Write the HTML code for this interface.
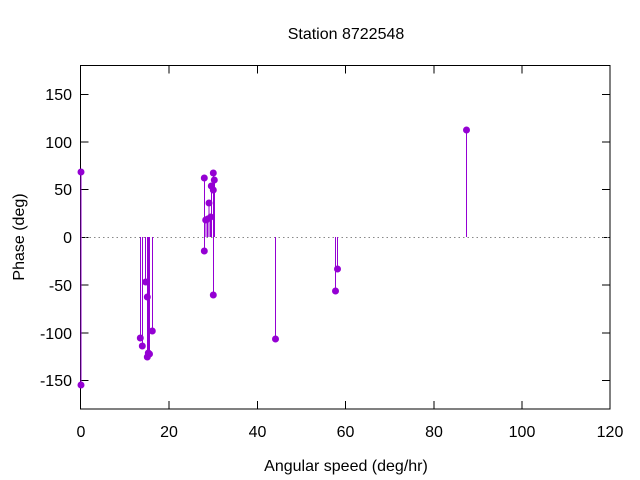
<!DOCTYPE html>
<html><head><style>body{margin:0;background:#fff}svg{display:block}text{font-family:"Liberation Sans","DejaVu Sans",sans-serif;font-size:16px;fill:#000}</style></head>
<body>
<svg width="640" height="480" xmlns="http://www.w3.org/2000/svg">
<text x="346" y="39" text-anchor="middle">Station 8722548</text>
<g stroke="#000" stroke-width="1">
<rect x="80.5" y="65.5" width="529.5" height="343.5" fill="none"/>
<path d="M80.5 94.5h8M80.5 142h8M80.5 189.5h8M80.5 237.5h8M80.5 285h8M80.5 333h8M80.5 380.5h8
M610 94.5h-8M610 142h-8M610 189.5h-8M610 237.5h-8M610 285h-8M610 333h-8M610 380.5h-8
M169 409v-8M257.5 409v-8M345.5 409v-8M434 409v-8M522 409v-8
M169 65.5v8M257.5 65.5v8M345.5 65.5v8M434 65.5v8M522 65.5v8"/>
</g>
<g text-anchor="end">
<text x="72" y="100">150</text><text x="72" y="148">100</text><text x="72" y="195">50</text><text x="72" y="243">0</text><text x="72" y="291">-50</text><text x="72" y="339">-100</text><text x="72" y="386">-150</text>
</g>
<g text-anchor="middle">
<text x="81" y="437">0</text><text x="169" y="437">20</text><text x="257.5" y="437">40</text><text x="345.5" y="437">60</text><text x="434" y="437">80</text><text x="522" y="437">100</text><text x="610" y="437">120</text>
</g>
<text x="346" y="471" text-anchor="middle">Angular speed (deg/hr)</text>
<text transform="translate(24,237) rotate(-90)" text-anchor="middle">Phase (deg)</text>
<line x1="80.5" y1="237.5" x2="610" y2="237.5" stroke="#888" stroke-width="1" stroke-dasharray="1.5,3"/>
<g stroke="#9400d3" stroke-width="1" fill="#9400d3">
<path d="M81 237V172M81 237V385M140.5 237V338M142.5 237V346M145.5 237V282M147.5 237V357M148.5 237V353M149.5 237V355M152.5 237V331M204.5 237V178M204.5 237V251M206 237V220M207.5 237V219M209 237V203M210.5 237V217M211.5 237V186M213.5 237V173M214.5 237V180M213.5 237V190M213.5 237V295M275.5 237V339M335.5 237V291M337.5 237V269M466.5 237V130"/>
<g stroke="none">
<circle cx="81" cy="172" r="3.5"/><circle cx="81" cy="385" r="3.5"/>
<circle cx="140.3" cy="338" r="3.5"/><circle cx="142.3" cy="346" r="3.5"/><circle cx="145.7" cy="282" r="3.5"/><circle cx="147.3" cy="297" r="3.5"/><circle cx="148.3" cy="353" r="3.5"/><circle cx="147.3" cy="357" r="3.5"/><circle cx="149.5" cy="354" r="3.5"/><circle cx="152.3" cy="331" r="3.5"/>
<circle cx="204.3" cy="178" r="3.5"/><circle cx="204.3" cy="251" r="3.5"/><circle cx="205.7" cy="220" r="3.5"/><circle cx="207.7" cy="219" r="3.5"/><circle cx="209" cy="203" r="3.5"/><circle cx="210.7" cy="217" r="3.5"/><circle cx="211.3" cy="186" r="3.5"/><circle cx="213.3" cy="173" r="3.5"/><circle cx="214.3" cy="180" r="3.5"/><circle cx="213.3" cy="190" r="3.5"/><circle cx="213.3" cy="295" r="3.5"/>
<circle cx="275.5" cy="339" r="3.5"/><circle cx="335.5" cy="291" r="3.5"/><circle cx="337.5" cy="269" r="3.5"/><circle cx="466.5" cy="130" r="3.5"/>
</g>
</g>
</svg>
</body></html>
